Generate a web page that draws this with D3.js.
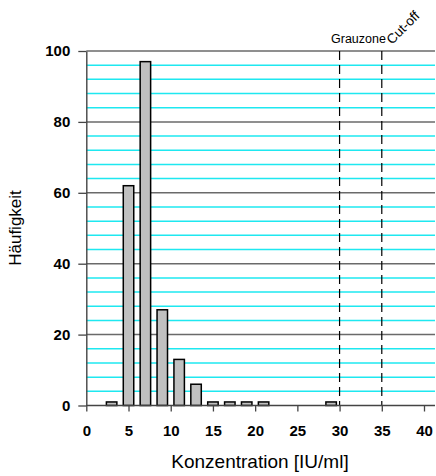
<!DOCTYPE html>
<html>
<head>
<meta charset="utf-8">
<script src="https://cdn.jsdelivr.net/npm/d3@7"></script>
<style>
  body { margin: 0; background: #fff; }
  svg { display: block; font-family: Arial, "Liberation Sans", sans-serif; }
</style>
</head>
<body>
<div id="chart"></div>
<script>
// bin centres and counts
var binCenters = [3, 5, 7, 9, 11, 13, 15, 17, 19, 21, 23, 25, 27, 29];
var counts     = [1, 62, 97, 27, 13, 6, 1, 1, 1, 1, 0, 0, 0, 1];
var xTicks = [0, 5, 10, 15, 20, 25, 30, 35, 40];
var yTicks = [0, 20, 40, 60, 80, 100];
var yMinor = [4, 8, 12, 16, 24, 28, 32, 36, 44, 48, 52, 56, 64, 68, 72, 76, 84, 88, 92, 96];
var markers = [30, 35];

var W = 436, H = 476;

var svg = d3.select("#chart").append("svg")
    .attr("width", W)
    .attr("height", H);

// scales
var x = d3.scaleLinear().domain([0, 40]).range([86.3, 424]);
var y = d3.scaleLinear().domain([0, 100]).range([405.5, 51]);
var xRight = 435;

// minor gridlines (cyan)
svg.append("g").selectAll("line")
    .data(yMinor)
    .enter().append("line")
    .attr("x1", x(0)).attr("x2", xRight)
    .attr("y1", function(d) { return y(d); })
    .attr("y2", function(d) { return y(d); })
    .attr("stroke", "#1ee8f0")
    .attr("stroke-width", 1.5);

// major gridlines (gray)
svg.append("g").selectAll("line")
    .data(yTicks.filter(function(d) { return d > 0; }))
    .enter().append("line")
    .attr("x1", x(0)).attr("x2", xRight)
    .attr("y1", function(d) { return y(d); })
    .attr("y2", function(d) { return y(d); })
    .attr("stroke", "#6a6a6a")
    .attr("stroke-width", 1.5);

// dashed marker lines
svg.append("g").selectAll("line")
    .data(markers)
    .enter().append("line")
    .attr("x1", function(d) { return x(d); })
    .attr("x2", function(d) { return x(d); })
    .attr("y1", y(100))
    .attr("y2", y(0))
    .attr("stroke", "#000")
    .attr("stroke-width", 1.2)
    .attr("stroke-dasharray", "9,5");

// bars
var halfW = 0.62;
svg.append("g").selectAll("rect")
    .data(binCenters.map(function(c, i) { return {c: c, v: counts[i]}; }).filter(function(d) { return d.v > 0; }))
    .enter().append("rect")
    .attr("x", function(d) { return x(d.c - halfW); })
    .attr("width", function(d) { return x(d.c + halfW) - x(d.c - halfW); })
    .attr("y", function(d) { return y(d.v); })
    .attr("height", function(d) { return y(0) - y(d.v); })
    .attr("fill", "#c0c0c0")
    .attr("stroke", "#000")
    .attr("stroke-width", 1.5);

// x axis
var xAxis = svg.append("g")
    .attr("transform", "translate(0," + y(0) + ")")
    .call(d3.axisBottom(x).tickValues(xTicks).tickSize(6).tickPadding(14).tickSizeOuter(0));
xAxis.select(".domain").attr("stroke", "#444").attr("stroke-width", 1.4)
    .attr("d", "M" + x(0) + ",0H" + xRight);
xAxis.selectAll(".tick line").attr("stroke", "#444").attr("stroke-width", 1.3);
xAxis.selectAll(".tick text")
    .attr("font-size", 15).attr("font-weight", "bold").attr("fill", "#000")
    .attr("font-family", "Arial, 'Liberation Sans', sans-serif");

// y axis
var yAxis = svg.append("g")
    .attr("transform", "translate(" + x(0) + ",0)")
    .call(d3.axisLeft(y).tickValues(yTicks).tickSize(8).tickPadding(8).tickSizeOuter(0));
yAxis.select(".domain").attr("stroke", "#444").attr("stroke-width", 1.4);
yAxis.selectAll(".tick line").attr("stroke", "#444").attr("stroke-width", 1.3);
yAxis.selectAll(".tick text")
    .attr("font-size", 15).attr("font-weight", "bold").attr("fill", "#000")
    .attr("font-family", "Arial, 'Liberation Sans', sans-serif");

// axis titles
svg.append("text")
    .attr("x", 260).attr("y", 468)
    .attr("text-anchor", "middle")
    .attr("font-size", 19)
    .text("Konzentration [IU/ml]");

svg.append("text")
    .attr("transform", "translate(21,228) rotate(-90)")
    .attr("text-anchor", "middle")
    .attr("font-size", 17)
    .text("Häufigkeit");

// marker labels
svg.append("text")
    .attr("x", 331).attr("y", 43)
    .attr("font-size", 12.5)
    .text("Grauzone");

svg.append("text")
    .attr("transform", "translate(392,45) rotate(-45)")
    .attr("font-size", 13.5)
    .text("Cut-off");
</script>
</body>
</html>
